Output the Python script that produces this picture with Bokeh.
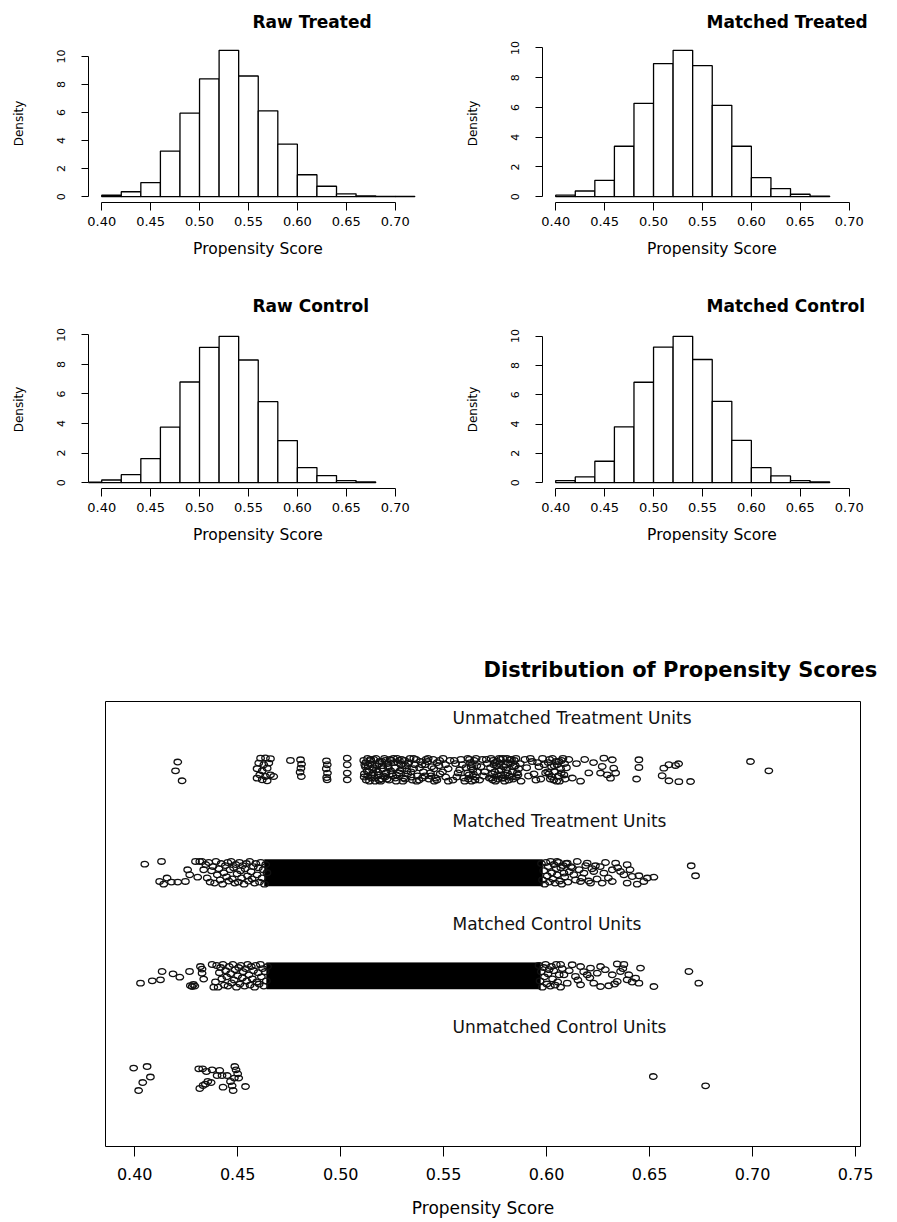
from bokeh.plotting import figure
from bokeh.layouts import column, row
from bokeh.models import Range1d, FixedTicker, NumeralTickFormatter
from bokeh.embed import file_html
from bokeh.resources import INLINE
from bokeh.core.properties import value

FONT = "DejaVu Sans"

# ---------------- histogram data: density of the propensity score in 0.02-wide bins
raw_treated_breaks = [0.40, 0.42, 0.44, 0.46, 0.48, 0.50, 0.52, 0.54, 0.56, 0.58,
                      0.60, 0.62, 0.64, 0.66, 0.68, 0.70, 0.72]
raw_treated_density = [0.10, 0.35, 1.00, 3.25, 5.95, 8.40, 10.43, 8.60, 6.12, 3.74,
                       1.56, 0.74, 0.20, 0.06, 0.01, 0.01]

matched_treated_breaks = [0.40, 0.42, 0.44, 0.46, 0.48, 0.50, 0.52, 0.54, 0.56, 0.58,
                          0.60, 0.62, 0.64, 0.66, 0.68]
matched_treated_density = [0.10, 0.38, 1.10, 3.39, 6.28, 8.95, 9.84, 8.81, 6.14, 3.39,
                           1.28, 0.54, 0.16, 0.03]

raw_control_breaks = [0.38, 0.40, 0.42, 0.44, 0.46, 0.48, 0.50, 0.52, 0.54, 0.56, 0.58,
                      0.60, 0.62, 0.64, 0.66, 0.68]
raw_control_density = [0.03, 0.18, 0.54, 1.63, 3.76, 6.81, 9.16, 9.90, 8.30, 5.48,
                       2.85, 1.02, 0.48, 0.14, 0.05]

matched_control_breaks = [0.40, 0.42, 0.44, 0.46, 0.48, 0.50, 0.52, 0.54, 0.56, 0.58,
                          0.60, 0.62, 0.64, 0.66, 0.68]
matched_control_density = [0.14, 0.39, 1.46, 3.81, 6.85, 9.25, 9.98, 8.40, 5.55, 2.88,
                           1.03, 0.46, 0.14, 0.05]

hist_xlim = (0.3865, 0.7330)
hist_xticks = [0.40, 0.45, 0.50, 0.55, 0.60, 0.65, 0.70]
hist_xlabels = ["0.40", "0.45", "0.50", "0.55", "0.60", "0.65", "0.70"]
density_ticks = [0, 2, 4, 6, 8, 10]

# ---------------- jitter plot data: (propensity score, vertical jitter) per group
unit_labels = ["Unmatched Treatment Units", "Matched Treatment Units",
               "Matched Control Units", "Unmatched Control Units"]
unit_rows = [4, 3, 2, 1]

jitter_xticks = [0.40, 0.45, 0.50, 0.55, 0.60, 0.65, 0.70, 0.75]
jitter_xlabels = ["0.40", "0.45", "0.50", "0.55", "0.60", "0.65", "0.70", "0.75"]

unmatched_treated = [
    (0.4209, 0.075), (0.4198, -0.010), (0.4230, -0.107),
    (0.4611, 0.113), (0.4635, 0.115), (0.4659, 0.107), (0.4602, 0.065), (0.4627, 0.049),
    (0.4651, 0.065), (0.4594, 0.010), (0.4619, -0.010), (0.4643, 0.016), (0.4607, -0.049),
    (0.4635, -0.065), (0.4659, -0.049), (0.4619, -0.097), (0.4643, -0.107), (0.4675, -0.065),
    (0.4594, -0.081),
    (0.4756, 0.090),
    (0.4805, 0.097), (0.4810, 0.055), (0.4807, 0.016), (0.4803, -0.023), (0.4809, -0.065),
    (0.4931, 0.087), (0.4935, 0.049), (0.4930, 0.010), (0.4936, -0.032), (0.4932, -0.075),
    (0.4934, -0.097),
    (0.5032, 0.113), (0.5032, 0.049), (0.5032, -0.032), (0.5032, -0.097),
    (0.5112, 0.09), (0.5115, -0.04), (0.5120, 0.03), (0.5124, -0.10), (0.5131, 0.11),
    (0.5136, -0.02), (0.5142, 0.06), (0.5149, -0.08), (0.5155, 0.00), (0.5161, 0.10),
    (0.5168, -0.11), (0.5176, 0.04), (0.5183, -0.05), (0.5190, 0.08), (0.5198, -0.09),
    (0.5205, 0.01), (0.5213, 0.11), (0.5220, -0.03), (0.5228, 0.06), (0.5236, -0.10),
    (0.5245, 0.09), (0.5253, -0.06), (0.5262, 0.02), (0.5270, -0.11), (0.5279, 0.07),
    (0.5288, -0.01), (0.5297, 0.10), (0.5306, -0.08), (0.5316, 0.04), (0.5326, -0.04),
    (0.5337, 0.11), (0.5348, -0.10), (0.5360, 0.05), (0.5373, -0.06), (0.5388, 0.08),
    (0.5402, -0.02), (0.5415, 0.10), (0.5428, -0.09), (0.5442, 0.03), (0.5455, -0.11),
    (0.5469, 0.07), (0.5483, -0.04), (0.5497, 0.11), (0.5510, -0.07), (0.5522, 0.01),
    (0.5531, 0.09),
    (0.5114, -0.07), (0.5122, 0.07), (0.5128, -0.01), (0.5134, 0.04), (0.5140, -0.11),
    (0.5146, 0.09), (0.5152, -0.05), (0.5158, 0.02), (0.5165, -0.08), (0.5172, 0.11),
    (0.5180, -0.02), (0.5187, 0.06), (0.5194, -0.11), (0.5202, 0.04), (0.5209, -0.06),
    (0.5217, 0.09), (0.5225, -0.09), (0.5232, 0.02), (0.5240, 0.10), (0.5249, -0.04),
    (0.5258, 0.07), (0.5266, -0.08), (0.5275, 0.11), (0.5284, -0.03), (0.5293, 0.05),
    (0.5302, -0.11), (0.5311, 0.09), (0.5321, -0.01), (0.5331, 0.07), (0.5342, -0.07),
    (0.5354, 0.01), (0.5367, 0.10), (0.5380, -0.10), (0.5395, 0.05), (0.5409, -0.06),
    (0.5422, 0.08), (0.5436, -0.03), (0.5450, 0.10), (0.5463, -0.08), (0.5477, 0.04),
    (0.5117, 0.05), (0.5131, -0.06), (0.5145, 0.10), (0.5159, -0.03), (0.5173, 0.00),
    (0.5187, -0.10), (0.5201, 0.08), (0.5215, -0.07), (0.5229, 0.03), (0.5243, -0.01),
    (0.5257, 0.11), (0.5271, -0.05), (0.5285, 0.09), (0.5299, 0.01), (0.5313, -0.09),
    (0.5327, 0.06), (0.5341, -0.02), (0.5355, 0.11), (0.5369, -0.11), (0.5383, 0.02),
    (0.5397, -0.08), (0.5411, 0.05), (0.5425, 0.11), (0.5439, -0.06), (0.5453, 0.01),
    (0.5467, -0.10), (0.5481, 0.09), (0.5495, -0.02), (0.5509, 0.05), (0.5523, -0.11),
    (0.5545, -0.10), (0.5558, 0.06), (0.5570, -0.03), (0.5584, 0.10), (0.5597, -0.08),
    (0.5608, 0.02),
    (0.5552, 0.09), (0.5564, -0.07), (0.5578, 0.00), (0.5591, 0.05), (0.5603, -0.11),
    (0.5618, 0.11), (0.5624, -0.05), (0.5630, 0.07), (0.5636, -0.11), (0.5642, 0.00),
    (0.5649, 0.09), (0.5655, -0.07), (0.5661, 0.04),
    (0.5621, -0.09), (0.5633, 0.03), (0.5645, -0.04), (0.5658, 0.11),
    (0.5626, 0.10), (0.5639, 0.05), (0.5652, -0.10), (0.5663, -0.02), (0.5617, -0.03),
    (0.5675, -0.10), (0.5688, 0.10), (0.5700, -0.02), (0.5712, 0.06), (0.5722, -0.08),
    (0.5681, 0.03), (0.5694, -0.06), (0.5707, 0.10),
    (0.5730, 0.11), (0.5737, -0.04), (0.5744, 0.05), (0.5752, -0.11), (0.5760, 0.08),
    (0.5768, -0.01), (0.5776, 0.10), (0.5784, -0.08), (0.5792, 0.03), (0.5800, -0.05),
    (0.5808, 0.11), (0.5816, -0.10), (0.5825, 0.06), (0.5834, -0.02), (0.5843, 0.09),
    (0.5853, -0.07), (0.5864, 0.01), (0.5876, -0.11),
    (0.5733, -0.08), (0.5741, 0.09), (0.5748, -0.02), (0.5756, 0.04), (0.5764, -0.09),
    (0.5772, 0.06), (0.5780, -0.05), (0.5788, 0.11), (0.5796, -0.11), (0.5804, 0.00),
    (0.5812, 0.07), (0.5820, -0.06), (0.5829, 0.10), (0.5838, -0.09), (0.5848, 0.04),
    (0.5858, -0.03),
    (0.5728, 0.02), (0.5739, -0.10), (0.5750, 0.07), (0.5761, -0.05), (0.5770, 0.11),
    (0.5779, 0.00), (0.5790, -0.08), (0.5801, 0.05), (0.5810, -0.03), (0.5822, 0.10),
    (0.5831, -0.07), (0.5841, 0.03), (0.5851, 0.11), (0.5861, -0.05), (0.5872, 0.06),
    (0.5895, 0.10), (0.5912, -0.06), (0.5930, 0.08), (0.5948, -0.10), (0.5963, 0.03),
    (0.5980, 0.11), (0.5995, -0.03),
    (0.5903, 0.02), (0.5921, 0.11), (0.5939, -0.04), (0.5956, 0.07), (0.5972, -0.09),
    (0.5988, 0.05),
    (0.6008, 0.07), (0.6018, -0.09), (0.6029, 0.11), (0.6040, -0.02), (0.6051, 0.05),
    (0.6062, -0.11), (0.6073, 0.09), (0.6084, -0.05), (0.6096, 0.02), (0.6108, 0.10),
    (0.6012, -0.04), (0.6024, 0.03), (0.6035, -0.10), (0.6046, 0.08), (0.6057, -0.06),
    (0.6068, 0.01), (0.6079, 0.11), (0.6090, -0.09),
    (0.6005, -0.02), (0.6015, 0.10), (0.6026, -0.07), (0.6037, 0.04), (0.6049, -0.11),
    (0.6060, 0.08), (0.6071, -0.03), (0.6087, 0.06),
    (0.6125, -0.08), (0.6145, 0.06), (0.6165, -0.11), (0.6185, 0.10), (0.6205, -0.03),
    (0.6228, 0.07),
    (0.6278, 0.113), (0.6319, 0.097), (0.6326, 0.016), (0.6262, -0.032), (0.6294, -0.049),
    (0.6335, -0.032), (0.6270, 0.032), (0.6310, -0.081),
    (0.6448, 0.097), (0.6448, 0.023), (0.6437, -0.090),
    (0.6569, 0.016), (0.6594, 0.049), (0.6626, 0.042), (0.6641, 0.058), (0.6561, -0.058),
    (0.6594, -0.107), (0.6642, -0.115), (0.6699, -0.114),
    (0.6990, 0.080), (0.7079, -0.010),
]

matched_treated = [
    (0.4049, 0.084), (0.4130, 0.110), (0.4121, -0.084), (0.4141, -0.110), (0.4157, -0.051),
    (0.4178, -0.090), (0.4209, -0.090), (0.4246, -0.084), (0.4257, 0.029), (0.4295, 0.110),
    (0.4316, 0.110), (0.4327, 0.110), (0.4267, -0.019), (0.4306, -0.042), (0.4335, 0.029),
    (0.4345, 0.08), (0.4352, -0.05), (0.4360, 0.10), (0.4366, -0.09), (0.4373, 0.02),
    (0.4380, 0.06), (0.4388, -0.10), (0.4395, 0.11), (0.4401, -0.02), (0.4409, 0.04),
    (0.4415, -0.07), (0.4420, 0.09), (0.4427, -0.11), (0.4433, 0.00), (0.4440, 0.07),
    (0.4446, -0.04), (0.4452, 0.10), (0.4457, -0.08), (0.4463, 0.03), (0.4469, 0.11),
    (0.4474, -0.06), (0.4480, 0.05), (0.4486, -0.10), (0.4491, 0.08), (0.4497, -0.01),
    (0.4503, -0.09), (0.4508, 0.10), (0.4514, 0.02), (0.4519, -0.05), (0.4525, 0.07),
    (0.4531, -0.11), (0.4536, 0.04), (0.4542, 0.09), (0.4548, -0.03), (0.4553, -0.08),
    (0.4559, 0.11), (0.4565, 0.01), (0.4570, -0.06), (0.4576, 0.06), (0.4582, -0.10),
    (0.4588, 0.09), (0.4594, -0.02), (0.4600, 0.05), (0.4606, -0.09), (0.4612, 0.10),
    (0.4618, -0.05), (0.4624, 0.03), (0.4630, -0.11), (0.4636, 0.08), (0.4642, 0.00),
    (0.5975, 0.09), (0.5980, -0.07), (0.5986, 0.02), (0.5991, -0.11), (0.5997, 0.10),
    (0.6003, -0.03), (0.6008, 0.06), (0.6014, -0.09), (0.6019, 0.11), (0.6025, 0.00),
    (0.6030, -0.06), (0.6036, 0.08), (0.6041, -0.10), (0.6047, 0.04), (0.6052, -0.02),
    (0.6058, 0.10), (0.6063, -0.08), (0.6069, 0.05), (0.6074, -0.11), (0.6080, 0.07),
    (0.6088, -0.04), (0.6095, 0.09), (0.6103, -0.09), (0.6110, 0.01), (0.6118, 0.06),
    (0.6051, 0.110), (0.6100, 0.094), (0.6149, 0.110), (0.6197, 0.094), (0.6237, 0.068),
    (0.6286, 0.100), (0.6335, 0.094), (0.6391, 0.078), (0.6084, -0.003), (0.6132, -0.019),
    (0.6181, -0.003), (0.6229, 0.013), (0.6278, -0.003), (0.6319, 0.029), (0.6359, 0.013),
    (0.6375, -0.019), (0.6416, -0.036), (0.6448, -0.029), (0.6489, -0.051), (0.6521, -0.042),
    (0.6165, -0.084), (0.6213, -0.100), (0.6270, -0.100), (0.6319, -0.084), (0.6391, -0.100),
    (0.6440, -0.110), (0.6472, -0.084),
    (0.6125, 0.05), (0.6140, -0.07), (0.6158, 0.03), (0.6172, -0.05), (0.6190, 0.07),
    (0.6205, -0.08), (0.6220, 0.04), (0.6245, -0.06), (0.6260, 0.06), (0.6300, -0.05),
    (0.6345, 0.05), (0.6405, 0.03),
    (0.6702, 0.068), (0.6723, -0.029),
]

matched_control = [
    (0.4028, -0.071), (0.4085, -0.049), (0.4125, -0.039), (0.4133, 0.042), (0.4186, 0.019),
    (0.4219, -0.013), (0.4266, 0.042), (0.4279, -0.104), (0.4327, 0.065), (0.4335, -0.032),
    (0.4376, 0.110), (0.4384, -0.110), (0.4270, -0.095), (0.4285, -0.085), (0.4292, -0.100),
    (0.4319, 0.090), (0.4327, 0.026),
    (0.4392, -0.06), (0.4398, 0.10), (0.4405, -0.11), (0.4411, 0.03), (0.4417, 0.08),
    (0.4423, -0.03), (0.4429, 0.11), (0.4435, -0.09), (0.4441, 0.05), (0.4447, -0.01),
    (0.4453, -0.10), (0.4459, 0.09), (0.4465, 0.02), (0.4471, -0.07), (0.4477, 0.11),
    (0.4483, -0.04), (0.4488, 0.06), (0.4494, -0.11), (0.4500, 0.00), (0.4505, 0.08),
    (0.4511, -0.08), (0.4516, 0.10), (0.4522, -0.02), (0.4527, 0.04), (0.4533, -0.10),
    (0.4538, 0.07), (0.4544, -0.05), (0.4549, 0.11), (0.4555, 0.01), (0.4560, -0.09),
    (0.4566, 0.09), (0.4571, -0.03), (0.4577, 0.05), (0.4582, -0.11), (0.4588, 0.10),
    (0.4593, -0.06), (0.4599, 0.03), (0.4604, -0.08), (0.4610, 0.11), (0.4615, -0.01),
    (0.4621, 0.07), (0.4627, -0.10), (0.4633, 0.04), (0.4639, -0.05), (0.4645, 0.09),
    (0.5963, 0.10), (0.5968, -0.05), (0.5974, 0.04), (0.5979, -0.11), (0.5985, 0.08),
    (0.5990, -0.01), (0.5996, 0.11), (0.6001, -0.08), (0.6007, 0.02), (0.6012, 0.06),
    (0.6018, -0.10), (0.6023, 0.09), (0.6029, -0.03), (0.6035, 0.05), (0.6041, -0.09),
    (0.6047, 0.11), (0.6054, -0.06), (0.6061, 0.01), (0.6068, -0.11), (0.6076, 0.07),
    (0.6068, 0.110), (0.6124, 0.107), (0.6165, 0.090), (0.6213, 0.075), (0.6262, 0.090),
    (0.6343, 0.115), (0.6375, 0.110), (0.6456, 0.075), (0.6084, 0.010), (0.6140, -0.006),
    (0.6197, 0.010), (0.6246, 0.026), (0.6319, 0.010), (0.6359, 0.042), (0.6399, 0.010),
    (0.6432, -0.023), (0.6100, -0.071), (0.6165, -0.087), (0.6229, -0.071), (0.6262, -0.104),
    (0.6302, -0.097), (0.6343, -0.055), (0.6391, -0.039), (0.6448, -0.071),
    (0.6110, 0.05), (0.6152, -0.04), (0.6180, 0.04), (0.6210, -0.02), (0.6285, 0.06),
    (0.6330, -0.08), (0.6370, 0.07), (0.6415, -0.06),
    (0.6521, -0.104), (0.6691, 0.042), (0.6739, -0.071),
]

unmatched_control = [
    (0.3995, 0.104), (0.4060, 0.119), (0.4076, 0.017), (0.4039, -0.036), (0.4019, -0.114),
    (0.4311, 0.097), (0.4330, 0.097), (0.4348, 0.071), (0.4376, 0.087), (0.4413, 0.081),
    (0.4424, 0.032), (0.4400, 0.032), (0.4449, 0.032), (0.4486, 0.119), (0.4492, 0.087),
    (0.4500, 0.049), (0.4484, 0.007), (0.4465, -0.026), (0.4355, -0.026), (0.4343, -0.051),
    (0.4332, -0.065), (0.4371, -0.036), (0.4316, -0.094), (0.4429, -0.081), (0.4473, -0.068),
    (0.4478, -0.114), (0.4538, -0.075), (0.4505, 0.007),
    (0.6518, 0.022), (0.6772, -0.068),
]

# propensity-score span where the matched groups' circles overlap into solid black
dense_rows = [3, 2]
dense_lo = [0.463, 0.464]
dense_hi = [0.598, 0.597]

group_points = [unmatched_treated, matched_treated, matched_control, unmatched_control]


def style_axis(ax, tick_px, label_px):
    ax.major_label_text_font = FONT
    ax.major_label_text_font_size = tick_px
    ax.major_label_text_color = "black"
    ax.axis_label_text_font = FONT
    ax.axis_label_text_font_size = label_px
    ax.axis_label_text_font_style = "normal"
    ax.axis_label_text_color = "black"
    ax.axis_line_color = "black"
    ax.major_tick_line_color = "black"
    ax.minor_tick_line_color = None
    ax.major_tick_in = 0


def hist_panel(title, breaks, dens, width, height, border_left, border_right,
               border_top, border_bottom, valign, standoff):
    ymax = max(dens)
    p = figure(width=width, height=height, output_backend="svg", toolbar_location=None,
               x_range=Range1d(*hist_xlim), y_range=Range1d(-0.04 * ymax, 1.04 * ymax),
               min_border_left=border_left, min_border_right=border_right,
               min_border_top=border_top, min_border_bottom=border_bottom,
               x_axis_label="Propensity Score", y_axis_label="Density")
    p.quad(left=breaks[:-1], right=breaks[1:], bottom=0, top=dens,
           fill_color="white", line_color="black", line_width=1.3)
    p.grid.visible = False
    p.outline_line_color = None
    p.background_fill_color = "white"
    p.border_fill_color = "white"
    p.title.text = title
    p.title.align = "left"
    p.title.offset = 164
    p.title.vertical_align = valign
    p.title.standoff = standoff
    p.title.text_font = FONT
    p.title.text_font_size = "17px"
    p.title.text_font_style = "bold"
    p.title.text_color = "black"

    xa = p.xaxis[0]
    style_axis(xa, "13px", "15.5px")
    xa.ticker = FixedTicker(ticks=hist_xticks)
    xa.formatter = NumeralTickFormatter(format="0.00")
    xa.major_label_overrides = dict(zip(hist_xticks, hist_xlabels))
    xa.bounds = (hist_xticks[0], hist_xticks[-1])
    xa.major_tick_out = 8
    xa.major_label_standoff = 6
    xa.axis_label_standoff = 11

    ya = p.yaxis[0]
    style_axis(ya, "11px", "12px")
    ya.ticker = FixedTicker(ticks=density_ticks)
    ya.bounds = (density_ticks[0], density_ticks[-1])
    ya.major_label_orientation = "parallel"
    ya.major_tick_out = 7
    ya.major_label_standoff = 16
    ya.axis_label_standoff = 29
    return p


h1 = hist_panel("Raw Treated", raw_treated_breaks, raw_treated_density,
                458, 270, 88, 31, 44, 68, "top", 22)
h2 = hist_panel("Matched Treated", matched_treated_breaks, matched_treated_density,
                431, 270, 84, 8, 44, 68, "top", 22)
h3 = hist_panel("Raw Control", raw_control_breaks, raw_control_density,
                458, 310, 88, 31, 60, 92, "bottom", 30)
h4 = hist_panel("Matched Control", matched_control_breaks, matched_control_density,
                431, 310, 84, 8, 60, 92, "bottom", 30)

# ---------------- jitter plot
p5 = figure(width=889, height=641, output_backend="svg", toolbar_location=None,
            x_range=Range1d(0.3858, 0.7524), y_range=Range1d(0.343, 4.663),
            y_axis_location=None, min_border_left=105, min_border_right=29,
            min_border_top=121, min_border_bottom=75, x_axis_label="Propensity Score")
p5.grid.visible = False
p5.outline_line_color = "black"
p5.outline_line_width = 1
p5.background_fill_color = "white"
p5.border_fill_color = "white"

BAND = 0.128
p5.quad(left=dense_lo, right=dense_hi,
        bottom=[r - BAND for r in dense_rows], top=[r + BAND for r in dense_rows],
        fill_color="black", line_color="black", line_width=0.5)

for pts, r in zip(group_points, unit_rows):
    xs = [ps for ps, _ in pts]
    ys = [r + j for _, j in pts]
    p5.ellipse(x=xs, y=ys, width=7.5, height=5.6, width_units="screen",
               height_units="screen", fill_color=None, line_color="#111111", line_width=1.3)

LABEL_X = 0.5543
p5.text(x=[LABEL_X] * len(unit_labels), y=[r + 0.5 for r in unit_rows], text=unit_labels,
        text_font=value(FONT), text_font_size="17px", text_align="left",
        text_baseline="middle", text_color="#111111")

p5.title.text = "Distribution of Propensity Scores"
p5.title.align = "left"
p5.title.offset = 378
p5.title.standoff = 40
p5.title.text_font = FONT
p5.title.text_font_size = "21px"
p5.title.text_font_style = "bold"
p5.title.text_color = "black"

xa = p5.xaxis[0]
style_axis(xa, "16px", "17px")
xa.ticker = FixedTicker(ticks=jitter_xticks)
xa.formatter = NumeralTickFormatter(format="0.00")
xa.major_label_overrides = dict(zip(jitter_xticks, jitter_xlabels))
xa.bounds = (jitter_xticks[0], jitter_xticks[-1])
xa.major_tick_out = 10
xa.major_label_standoff = 11
xa.axis_label_standoff = 15

layout = column(row(h1, h2), row(h3, h4), p5)
open("out.html", "w").write(file_html(layout, INLINE, title="Propensity score distributions"))
